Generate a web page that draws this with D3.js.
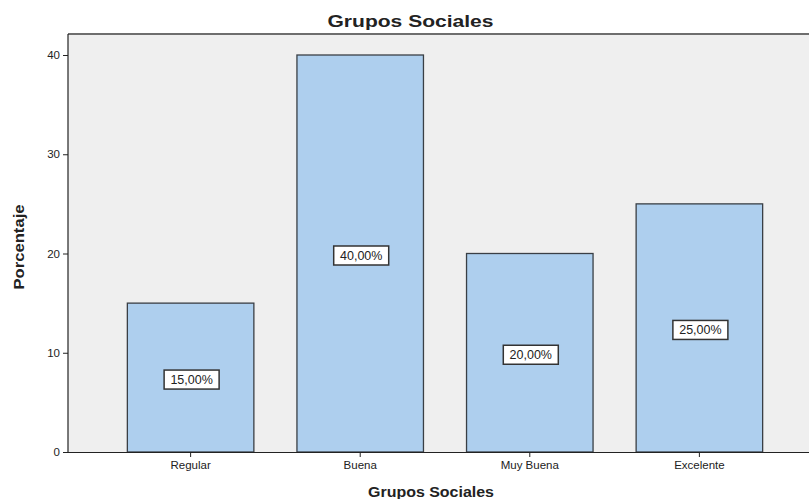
<!DOCTYPE html>
<html><head><meta charset="utf-8">
<script src="https://cdn.jsdelivr.net/npm/d3@7"></script>
<style>body{margin:0;background:#fff}svg{display:block;font-family:Arial,"Liberation Sans",sans-serif}</style>
</head><body>
<script>
const categories = ["Regular","Buena","Muy Buena","Excelente"];
const values = [15,40,20,25];
const yTicks = [0,10,20,30,40];
const labels = ["15,00%","40,00%","20,00%","25,00%"];

(function(){
const W=809,H=499;
const svg=d3.select("body").append("svg").attr("width",W).attr("height",H);
const pLeft=68, pTop=34, pBottom=452, rightExt=822;
const x=d3.scaleBand().domain(categories).range([pLeft,rightExt]).paddingInner(0.254).paddingOuter(0.35);
const y=d3.scaleLinear().domain([0,40]).range([pBottom,55]);

svg.append("rect").attr("x",pLeft).attr("y",pTop).attr("width",W-pLeft).attr("height",pBottom-pTop).attr("fill","#efefef");
svg.append("line").attr("x1",pLeft).attr("x2",W).attr("y1",pTop).attr("y2",pTop).attr("stroke","#6e6e6e").attr("stroke-width",2);
svg.append("line").attr("x1",pLeft).attr("x2",pLeft).attr("y1",pTop).attr("y2",pBottom).attr("stroke","#222").attr("stroke-width",1.2);

svg.selectAll("rect.bar").data(values).enter().append("rect").attr("class","bar")
 .attr("x",(d,i)=>x(categories[i])).attr("width",x.bandwidth())
 .attr("y",d=>y(d)).attr("height",d=>pBottom-y(d))
 .attr("fill","#aecfee").attr("stroke","#3a3f45").attr("stroke-width",1.3);

const ya=svg.append("g").attr("transform",`translate(${pLeft},0)`).call(d3.axisLeft(y).tickValues(yTicks).tickSize(5).tickFormat(d3.format("d")));
ya.select(".domain").remove();
ya.selectAll("line").attr("stroke","#222");
ya.selectAll("text").attr("font-size",11.5).attr("fill","#222").attr("font-family","Arial,'Liberation Sans',sans-serif");

const xa=svg.append("g").attr("transform",`translate(0,${pBottom})`).call(d3.axisBottom(x).tickSize(5).tickPadding(4));
xa.select(".domain").attr("d",`M${pLeft},0.5H${W}`).attr("stroke","#222");
xa.selectAll("line").attr("stroke","#222");
xa.selectAll("text").attr("font-size",11.5).attr("fill","#222").attr("font-family","Arial,'Liberation Sans',sans-serif");

const lg=svg.selectAll("g.lab").data(values).enter().append("g").attr("class","lab")
 .attr("transform",(d,i)=>`translate(${x(categories[i])+x.bandwidth()/2},${y(d/2)+1.5})`);
lg.append("rect").attr("x",-26.5).attr("y",-9).attr("width",55).attr("height",19).attr("fill","#fff").attr("stroke","#333").attr("stroke-width",1.5);
lg.append("text").text((d,i)=>labels[i]).attr("text-anchor","middle").attr("dy","0.35em").attr("y",0.5).attr("x",1).attr("font-size",12.5).attr("fill","#222");

svg.append("text").text("Grupos Sociales").attr("x",410.5).attr("y",27).attr("text-anchor","middle").attr("font-weight","bold").attr("font-size",16).attr("textLength",166).attr("lengthAdjust","spacingAndGlyphs").attr("fill","#222");
svg.append("text").text("Grupos Sociales").attr("x",431).attr("y",497).attr("text-anchor","middle").attr("font-weight","bold").attr("font-size",15).attr("textLength",126).attr("lengthAdjust","spacingAndGlyphs").attr("fill","#222");
svg.append("text").text("Porcentaje").attr("transform","translate(24,247) rotate(-90)").attr("text-anchor","middle").attr("font-weight","bold").attr("font-size",15).attr("textLength",85).attr("lengthAdjust","spacingAndGlyphs").attr("fill","#222");
})();
</script>
</body></html>
